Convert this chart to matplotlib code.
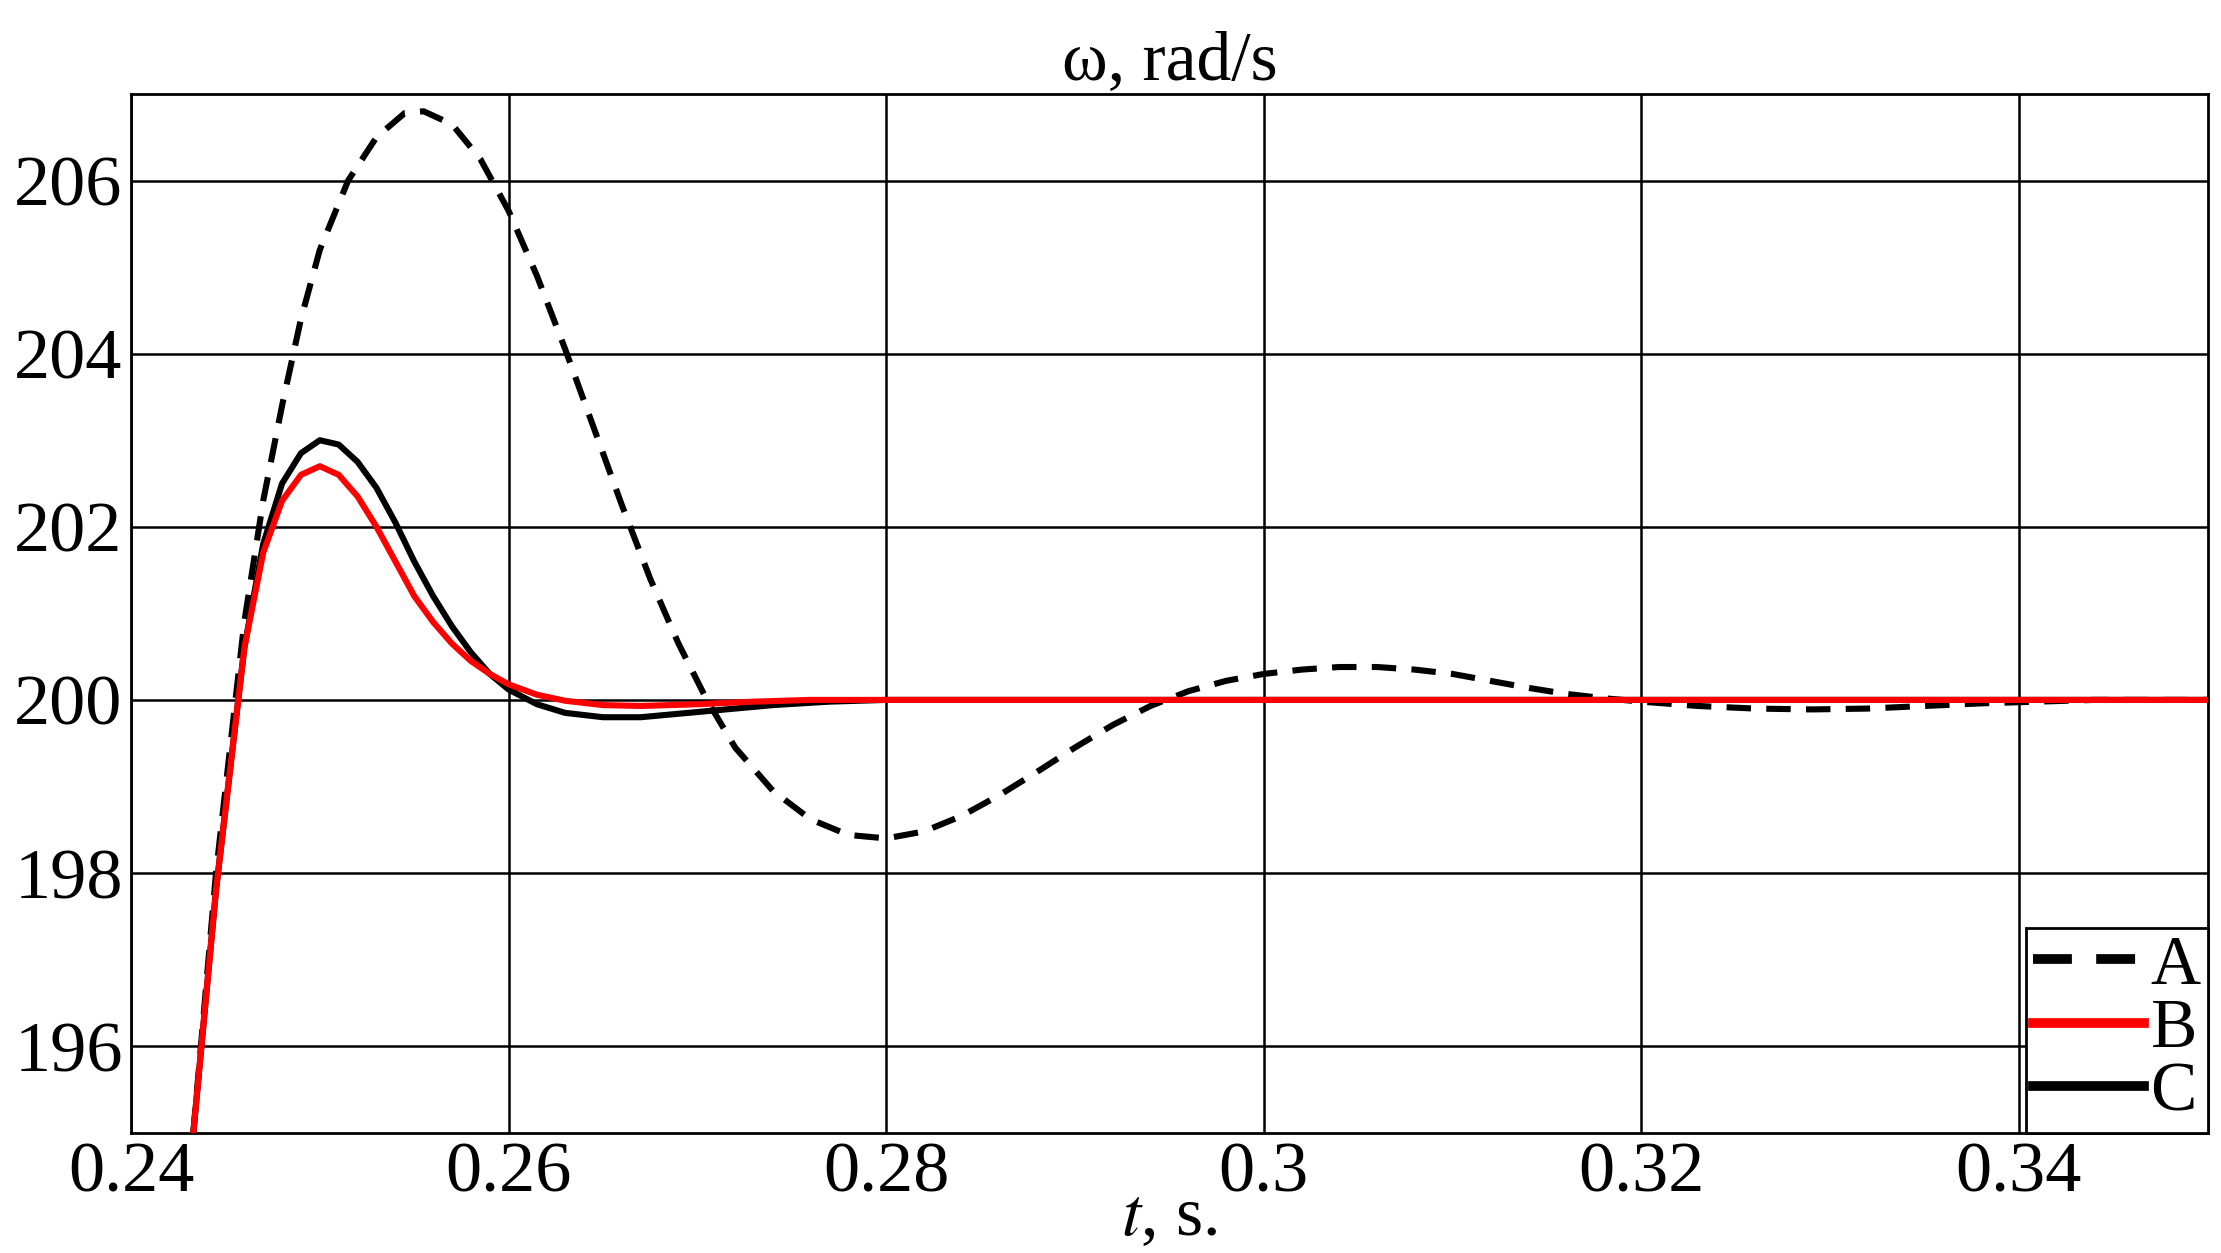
import matplotlib
matplotlib.use("Agg")
import matplotlib.pyplot as plt

# curve A (dashed), B (red), C (black)
t_a = [0.2433, 0.2445, 0.246, 0.247, 0.248, 0.249, 0.250, 0.2515, 0.253, 0.2545, 0.2555, 0.257,
       0.2585, 0.260, 0.2615, 0.263, 0.2645, 0.266, 0.2675, 0.269, 0.2705, 0.272, 0.274, 0.276,
       0.278, 0.280, 0.282, 0.284, 0.286, 0.288, 0.290, 0.292, 0.294, 0.296, 0.298, 0.300,
       0.302, 0.304, 0.306, 0.308, 0.310, 0.312, 0.314, 0.316, 0.318, 0.320, 0.323, 0.326,
       0.329, 0.332, 0.335, 0.338, 0.341, 0.344, 0.347, 0.350]
w_a = [195.0, 198.0, 200.9, 202.3, 203.4, 204.4, 205.2, 206.0, 206.5, 206.78, 206.8, 206.65,
       206.25, 205.65, 204.9, 204.05, 203.15, 202.25, 201.4, 200.65, 200.0, 199.45, 198.95,
       198.62, 198.44, 198.4, 198.48, 198.66, 198.9, 199.17, 199.45, 199.71, 199.93, 200.1,
       200.22, 200.3, 200.35, 200.38, 200.38, 200.35, 200.3, 200.22, 200.14, 200.07, 200.02,
       199.98, 199.93, 199.9, 199.89, 199.9, 199.93, 199.96, 199.98, 200.0, 200.0, 200.0]
t_b = [0.2433, 0.2445, 0.246, 0.247, 0.248, 0.249, 0.250, 0.251, 0.252, 0.253, 0.254, 0.255,
       0.256, 0.257, 0.258, 0.259, 0.260, 0.2615, 0.263, 0.265, 0.267, 0.270, 0.273, 0.276,
       0.280, 0.350]
w_b = [195.0, 197.8, 200.6, 201.7, 202.3, 202.6, 202.7, 202.6, 202.35, 202.0, 201.6, 201.2,
       200.9, 200.65, 200.45, 200.3, 200.18, 200.06, 199.99, 199.94, 199.93, 199.95, 199.98,
       200.0, 200.0, 200.0]
t_c = [0.2433, 0.2445, 0.246, 0.247, 0.248, 0.249, 0.250, 0.251, 0.252, 0.253, 0.254, 0.255,
       0.256, 0.257, 0.258, 0.259, 0.260, 0.2615, 0.263, 0.265, 0.267, 0.269, 0.271, 0.274,
       0.277, 0.280, 0.350]
w_c = [195.0, 197.8, 200.6, 201.8, 202.5, 202.85, 203.0, 202.95, 202.75, 202.45, 202.05,
       201.6, 201.2, 200.85, 200.55, 200.3, 200.12, 199.95, 199.85, 199.8, 199.8, 199.84,
       199.88, 199.94, 199.98, 200.0, 200.0]

x_ticks = [0.24, 0.26, 0.28, 0.30, 0.32, 0.34]
x_labels = ["0.24", "0.26", "0.28", "0.3", "0.32", "0.34"]
y_ticks = [196, 198, 200, 202, 204, 206]

plt.rcParams["font.family"] = ["Liberation Serif", "DejaVu Serif"]
plt.rcParams["mathtext.fontset"] = "stix"

fig = plt.figure(figsize=(11.105, 6.265), dpi=200)
ax = fig.add_axes([0.059, 0.096, 0.935, 0.829])

ax.plot(t_a, w_a, color="black", lw=2.2, ls=(0, (4, 2.5)), label="A")
ax.plot(t_c, w_c, color="black", lw=2.2, label="C", zorder=3)
ax.plot(t_b, w_b, color="red", lw=2.2, label="B", zorder=4)

ax.set_xlim(0.24, 0.35)
ax.set_ylim(195, 207)
ax.set_xticks(x_ticks)
ax.set_xticklabels(x_labels)
ax.set_yticks(y_ticks)
ax.tick_params(labelsize=26, length=0, pad=3)
ax.grid(color="black", lw=0.9)
for s in ax.spines.values():
    s.set_linewidth(1.0)

ax.set_title("ω, rad/s", fontsize=25, pad=4)
ax.set_xlabel("$t$, s.", fontsize=25, labelpad=-7)

h, l = ax.get_legend_handles_labels()
order = [0, 2, 1]
leg = ax.legend([h[i] for i in order], [l[i] for i in order], loc="lower right",
                fontsize=25, handlelength=1.6, handletextpad=0.1, borderpad=0.1,
                labelspacing=0.0, borderaxespad=0.0, fancybox=False, framealpha=1,
                edgecolor="black")
leg.get_frame().set_linewidth(1.0)
for ln in leg.get_lines():
    ln.set_linewidth(3.5)

fig.savefig("out.png", dpi=200)
